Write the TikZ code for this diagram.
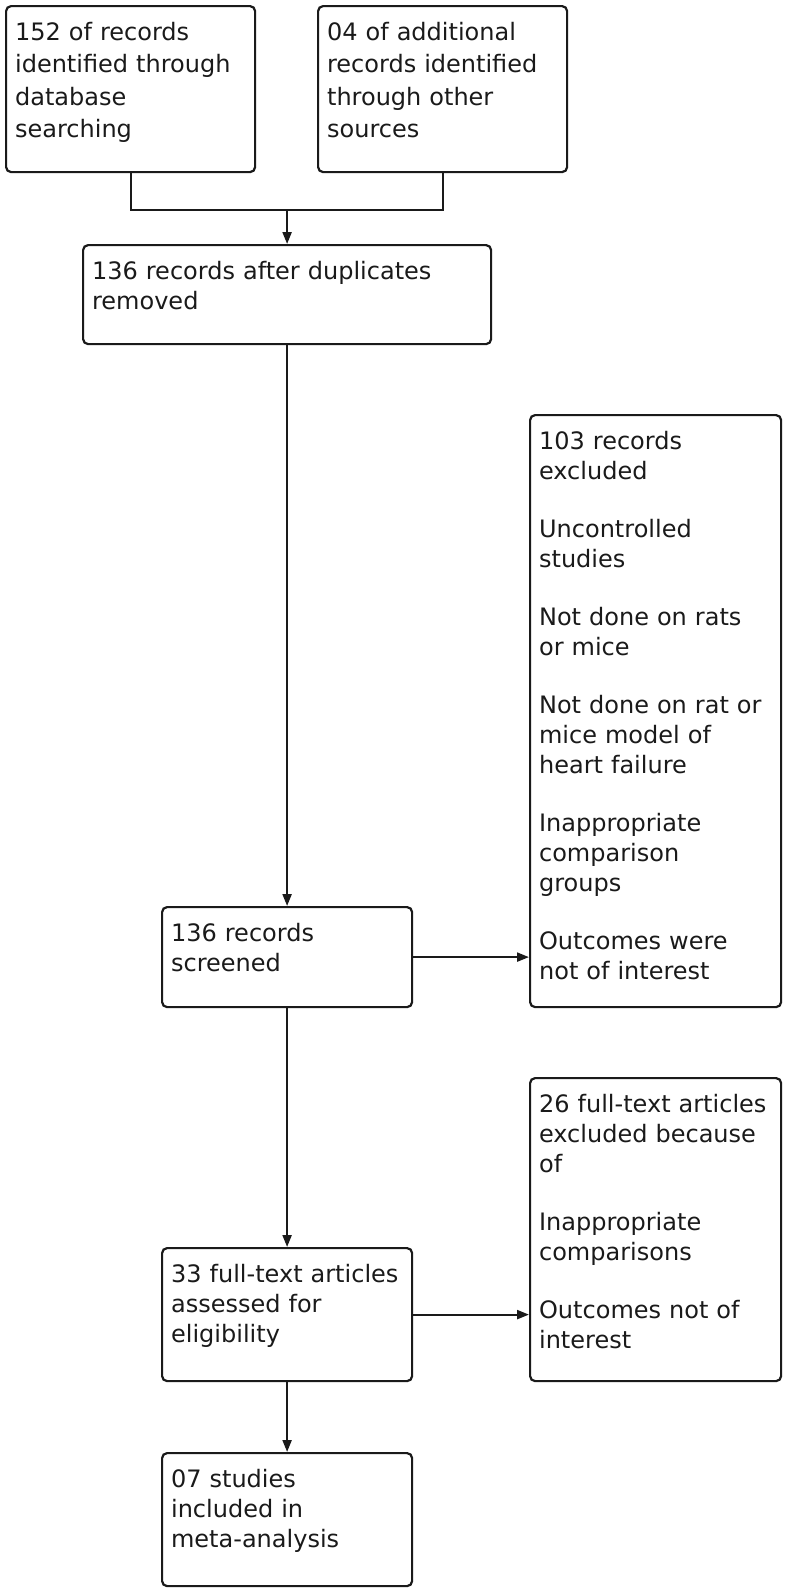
\documentclass[tikz,border=0pt]{standalone}
\usepackage{fontspec}
\setmainfont{DejaVu Sans}
\usetikzlibrary{arrows.meta}
\usetikzlibrary{calc}
\definecolor{inkgray}{HTML}{1A1A1A}
\tikzset{
	flowbox/.style={draw=inkgray, text=inkgray, line width=2.2pt, rounded corners=5pt, anchor=north west, inner xsep=9pt, inner ysep=0pt, text height=34pt, align=left, font=\fontsize{24}{30}\selectfont},
	flowline/.style={draw=inkgray, line width=2.2pt},
	flowarrow/.style={flowline, -{Triangle[length=12pt,width=9pt]}}
}

\begin{document}
\begin{tikzpicture}[x=1pt,y=-1pt]
	\useasboundingbox (0,0) rectangle (787,1593);
	
	% identification
	\node[flowbox, text width=231pt, text depth=132pt, font=\fontsize{24}{32.5}\selectfont] (db) at (5,5) {152 of records\\identified through\\database\\searching};
	\node[flowbox, text width=231pt, text depth=132pt, font=\fontsize{24}{32.5}\selectfont] (other) at (317,5) {04 of additional\\records identified\\through other\\sources};
	\node[flowbox, text width=390pt, text depth=65pt] (dup) at (82,244) {136 records after duplicates\\removed};
	
	% screening and eligibility
	\node[flowbox, text width=232pt, text depth=66pt] (scr) at (161,906) {136 records\\screened};
	\node[flowbox, text width=233pt, text depth=558pt] (ex1) at (529,414) {103 records\\excluded\\[28pt]Uncontrolled\\studies\\[28pt]Not done on rats\\or mice\\[28pt]Not done on rat or\\mice model of\\heart failure\\[28pt]Inappropriate\\comparison\\groups\\[28pt]Outcomes were\\not of interest};
	\node[flowbox, text width=232pt, text depth=99pt] (full) at (161,1247) {33 full-text articles\\assessed for\\eligibility};
	\node[flowbox, text width=233pt, text depth=269pt] (ex2) at (529,1077) {26 full-text articles\\excluded because\\of\\[28pt]Inappropriate\\comparisons\\[28pt]Outcomes not of\\interest};
	\node[flowbox, text width=232pt, text depth=99pt] (incl) at (161,1452) {07 studies\\included in\\meta-analysis};
	
	% merge of the two sources
	\coordinate (merge) at (dup.north |- 0,210);
	\draw[flowline] (db.south) -- (db.south |- merge) -- (other.south |- merge) -- (other.south);
	\draw[flowarrow] (merge) -- (dup.north);
	
	%arrows
	\draw[flowarrow] (dup.south) -- (scr.north);
	\draw[flowarrow] (scr.east) -- (scr.east -| ex1.west);
	\draw[flowarrow] (scr.south) -- (full.north);
	\draw[flowarrow] (full.east) -- (full.east -| ex2.west);
	\draw[flowarrow] (full.south) -- (incl.north);
\end{tikzpicture}
\end{document}
